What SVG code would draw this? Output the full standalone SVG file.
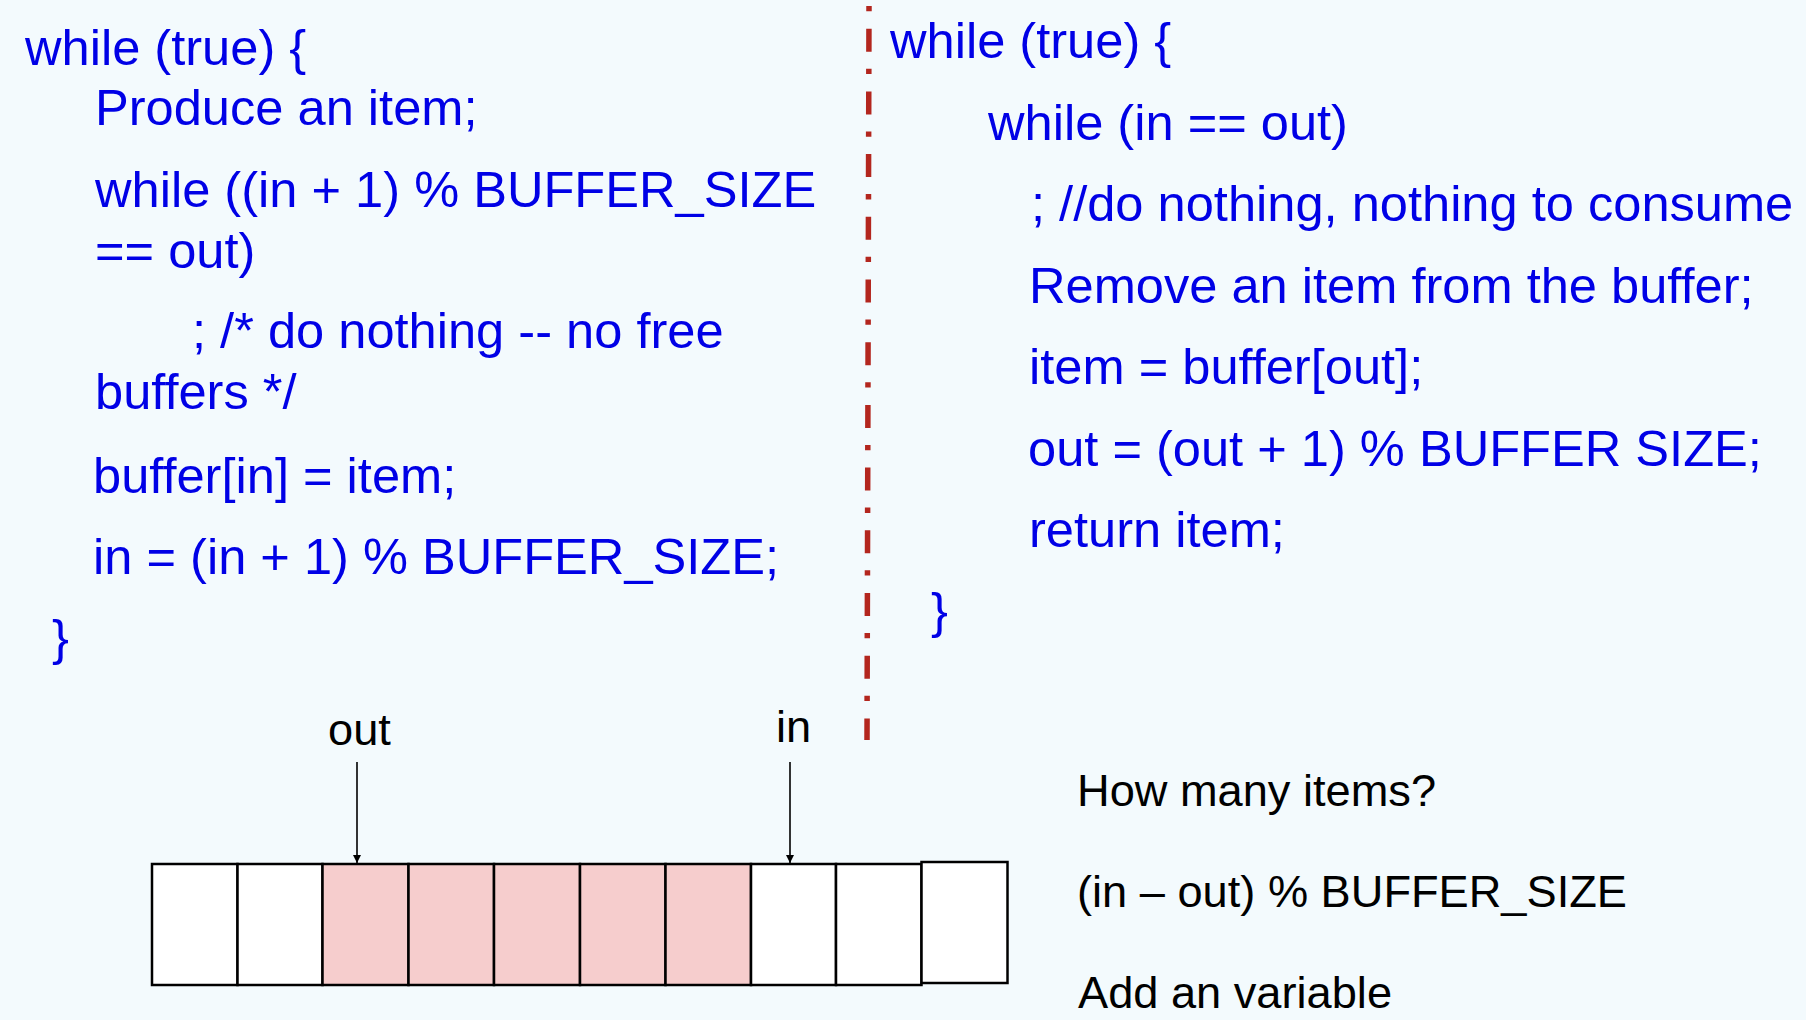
<svg xmlns="http://www.w3.org/2000/svg" width="1806" height="1020" viewBox="0 0 1806 1020">
<defs>
<style>
.code{font-family:"Liberation Sans",Arial,Helvetica,sans-serif;font-size:50.6px;fill:#0000E6;}
.note{font-family:"Liberation Sans",Arial,Helvetica,sans-serif;font-size:45.2px;fill:#000000;}
.cell{stroke:#000000;stroke-width:2.5;fill:#FFFFFF;}
.full{fill:#F6CDCD;}
.ptr{stroke:#000000;stroke-width:1.6;fill:none;}
</style>
<marker id="ah" viewBox="0 0 8 10" refX="8" refY="5" markerWidth="8" markerHeight="10" markerUnits="userSpaceOnUse" orient="auto">
<path d="M0,1 L8,5 L0,9 Z" fill="#000000"/>
</marker>
</defs>
<rect x="0" y="0" width="1806" height="1020" fill="#F3FAFD"/>

<g id="producer">
<text class="code" x="25" y="65">while (true) {</text>
<text class="code" x="95" y="125">Produce an item;</text>
<text class="code" x="95" y="207">while ((in + 1) % BUFFER_SIZE</text>
<text class="code" x="95" y="268">== out)</text>
<text class="code" x="192" y="348">; /* do nothing -- no free</text>
<text class="code" x="95" y="409">buffers */</text>
<text class="code" x="93" y="493">buffer[in] = item;</text>
<text class="code" x="93" y="574">in = (in + 1) % BUFFER_SIZE;</text>
<text class="code" x="52" y="655">}</text>
</g>

<g id="divider">
<line x1="869" y1="6" x2="867" y2="740" stroke="#B3261E" stroke-width="5.5" stroke-dasharray="5.3 17.4 23 17"/>
</g>

<g id="consumer">
<text class="code" x="890" y="58">while (true) {</text>
<text class="code" x="988" y="140">while (in == out)</text>
<text class="code" x="1031" y="221">; //do nothing, nothing to consume</text>
<text class="code" x="1029" y="303">Remove an item from the buffer;</text>
<text class="code" x="1029" y="384">item = buffer[out];</text>
<text class="code" x="1028" y="466">out = (out + 1) % BUFFER SIZE;</text>
<text class="code" x="1029" y="547">return item;</text>
<text class="code" x="931" y="628">}</text>
</g>

<g id="buffer">
<rect class="cell" x="152" y="864" width="85.5" height="121"/>
<rect class="cell" x="237.5" y="864" width="85" height="121"/>
<rect class="cell full" x="322.5" y="864" width="86" height="121"/>
<rect class="cell full" x="408.5" y="864" width="85.5" height="121"/>
<rect class="cell full" x="494" y="864" width="86" height="121"/>
<rect class="cell full" x="580" y="864" width="85.5" height="121"/>
<rect class="cell full" x="665.5" y="864" width="85.5" height="121"/>
<rect class="cell" x="751" y="864" width="85" height="121"/>
<rect class="cell" x="836" y="864" width="85.5" height="121"/>
<rect class="cell" x="921.5" y="862" width="86" height="121"/>
</g>

<g id="label-out">
<text class="note" x="328" y="745">out</text>
</g>
<g id="label-in">
<text class="note" x="776" y="742">in</text>
</g>

<g id="connectors">
<line class="ptr" x1="357" y1="762" x2="357" y2="863" marker-end="url(#ah)"/>
<line class="ptr" x1="790" y1="762" x2="790" y2="863" marker-end="url(#ah)"/>
</g>

<g id="notes">
<text class="note" x="1077" y="806">How many items?</text>
<text class="note" x="1077" y="907">(in – out) % BUFFER_SIZE</text>
<text class="note" x="1078" y="1008">Add an variable</text>
</g>
</svg>
